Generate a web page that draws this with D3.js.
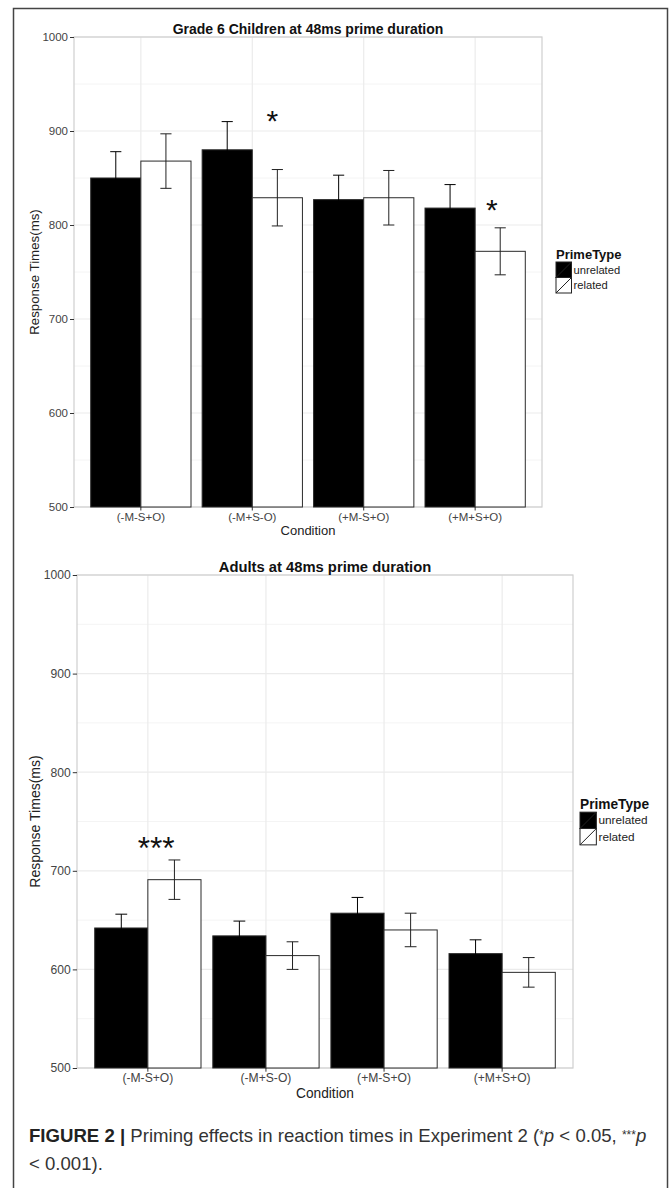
<!DOCTYPE html>
<html><head><meta charset="utf-8">
<script src="https://cdn.jsdelivr.net/npm/d3@7"></script>
<style>
html,body{margin:0;padding:0;background:#fff;}
svg{display:block;}
</style></head>
<body>
<script>
// ---------- DATA ----------
const categories = ["(-M-S+O)", "(-M+S-O)", "(+M-S+O)", "(+M+S+O)"];
const primeTypes = ["unrelated", "related"];
const yTicks = [500, 600, 700, 800, 900, 1000];

const childUnrelated    = [850, 880, 827, 818];
const childUnrelatedErr = [28, 30, 26, 25];
const childRelated      = [868, 829, 829, 772];
const childRelatedErr   = [29, 30, 29, 25];
const childStarCats   = ["(-M+S-O)", "(+M+S+O)"];
const childStarLabels = ["*", "*"];
const childStarValues = [918, 824];
const childStarShift  = [0.18, 0.15];

const adultUnrelated    = [642, 634, 657, 616];
const adultUnrelatedErr = [14, 15, 16, 14];
const adultRelated      = [691, 614, 640, 597];
const adultRelatedErr   = [20, 14, 17, 15];
const adultStarCats   = ["(-M-S+O)"];
const adultStarLabels = ["***"];
const adultStarValues = [731];
const adultStarShift  = [0.07];

// ---------- DRAW ----------
const FONT = "'Liberation Sans', Arial, Helvetica, sans-serif";
const svg = d3.select("body").append("svg").attr("width", 672).attr("height", 1188);
svg.append("rect").attr("width", 672).attr("height", 1188).attr("fill", "#fff");
// outer frame
svg.append("rect").attr("x", 13.5).attr("y", 8.5).attr("width", 654).attr("height", 1200)
  .attr("fill", "none").attr("stroke", "#444").attr("stroke-width", 1.5);

function drawChart(cfg) {
  const s = cfg.s;
  const g = svg.append("g");
  const x = d3.scaleBand().domain(categories).range([cfg.left, cfg.right])
    .paddingInner(0.1).paddingOuter(0.15);
  const step = x.step();
  const y = d3.scaleLinear().domain([500, 1000]).range([cfg.bottom, cfg.top]);

  // minor grid
  const minor = d3.range(550, 1000, 100);
  g.selectAll(".minor").data(minor).join("line")
    .attr("x1", cfg.left).attr("x2", cfg.right)
    .attr("y1", d => y(d)).attr("y2", d => y(d))
    .attr("stroke", "#f4f4f4").attr("stroke-width", 1);
  // major grid
  g.selectAll(".majy").data(yTicks).join("line")
    .attr("x1", cfg.left).attr("x2", cfg.right)
    .attr("y1", d => y(d)).attr("y2", d => y(d))
    .attr("stroke", "#ebebeb").attr("stroke-width", 1.2);
  g.selectAll(".majx").data(categories).join("line")
    .attr("x1", d => x(d) + x.bandwidth() / 2).attr("x2", d => x(d) + x.bandwidth() / 2)
    .attr("y1", cfg.top).attr("y2", cfg.bottom)
    .attr("stroke", "#ebebeb").attr("stroke-width", 1.2);
  // panel border
  g.append("rect").attr("x", cfg.left).attr("y", cfg.top)
    .attr("width", cfg.right - cfg.left).attr("height", cfg.bottom - cfg.top)
    .attr("fill", "none").attr("stroke", "#cfcfcf").attr("stroke-width", 1.2);

  const x1 = d3.scaleBand().domain(primeTypes).range([0, x.bandwidth()]);
  const rows = categories.map((c, i) => [
    { cat: c, type: "unrelated", v: cfg.unrel[i], e: cfg.unrelErr[i] },
    { cat: c, type: "related", v: cfg.rel[i], e: cfg.relErr[i] }
  ]).flat();

  g.selectAll(".bar").data(rows).join("rect")
    .attr("x", d => x(d.cat) + x1(d.type))
    .attr("y", d => y(d.v))
    .attr("width", x1.bandwidth())
    .attr("height", d => y(500) - y(d.v))
    .attr("fill", d => d.type === "unrelated" ? "#000" : "#fff")
    .attr("stroke", "#2a2a2a").attr("stroke-width", 1);

  const capW = 0.1 * step;
  const ebColor = d => d.type === "unrelated" ? "#000" : "#222";
  const eb = g.selectAll(".eb").data(rows).join("g")
    .attr("transform", d => `translate(${x(d.cat) + x1(d.type) + x1.bandwidth() / 2},0)`);
  eb.append("line").attr("x1", 0).attr("x2", 0)
    .attr("y1", d => y(d.v + d.e)).attr("y2", d => y(d.v - d.e))
    .attr("stroke", ebColor).attr("stroke-width", 1);
  eb.append("line").attr("x1", -capW / 2).attr("x2", capW / 2)
    .attr("y1", d => y(d.v + d.e)).attr("y2", d => y(d.v + d.e))
    .attr("stroke", ebColor).attr("stroke-width", 1);
  eb.append("line").attr("x1", -capW / 2).attr("x2", capW / 2)
    .attr("y1", d => y(d.v - d.e)).attr("y2", d => y(d.v - d.e))
    .attr("stroke", ebColor).attr("stroke-width", 1);

  // stars
  const starFs = 30 * s;
  g.selectAll(".star").data(cfg.starCats.map((c, i) => ({ c, l: cfg.starLabels[i], v: cfg.starValues[i], sh: cfg.starShift[i] })))
    .join("text")
    .attr("x", d => x(d.c) + x.bandwidth() / 2 + d.sh * step)
    .attr("y", d => y(d.v) + 0.58 * starFs)
    .attr("text-anchor", "middle")
    .attr("font-family", FONT).attr("font-size", starFs).attr("fill", "#111")
    .text(d => d.l);

  // y axis
  const ya = g.append("g").attr("transform", `translate(${cfg.left},0)`)
    .call(d3.axisLeft(y).tickValues(yTicks).tickSize(4 * s).tickPadding(2 * s).tickFormat(d3.format("d")));
  ya.select(".domain").remove();
  ya.selectAll(".tick line").attr("stroke", "#333");
  ya.selectAll(".tick text").attr("font-family", FONT).attr("font-size", 11.5 * s).attr("fill", "#444");

  // x axis
  const xa = g.append("g").attr("transform", `translate(0,${cfg.bottom})`)
    .call(d3.axisBottom(x).tickSize(3.5 * s).tickPadding(2 * s));
  xa.select(".domain").remove();
  xa.selectAll(".tick line").attr("stroke", "#333");
  xa.selectAll(".tick text").attr("font-family", FONT).attr("font-size", 11.5 * s).attr("fill", "#444");

  const cx = (cfg.left + cfg.right) / 2;
  g.append("text").attr("x", cx).attr("y", cfg.bottom + 28 * s)
    .attr("text-anchor", "middle").attr("font-family", FONT).attr("font-size", 13 * s)
    .attr("fill", "#222").text("Condition");
  g.append("text")
    .attr("transform", `translate(${cfg.yTitleX},${(cfg.top + cfg.bottom) / 2}) rotate(-90)`)
    .attr("text-anchor", "middle").attr("font-family", FONT).attr("font-size", 13.3 * s)
    .attr("fill", "#222").text("Response Times(ms)");
  g.append("text").attr("x", cx).attr("y", cfg.top - 3 * s)
    .attr("text-anchor", "middle").attr("font-family", FONT).attr("font-size", 14 * s)
    .attr("font-weight", "bold").attr("fill", "#111").text(cfg.title);

  // legend
  const lg = g.append("g").attr("transform", `translate(${cfg.legX},${cfg.legY})`);
  lg.append("text").attr("x", 0).attr("y", 0).attr("font-family", FONT)
    .attr("font-size", 13 * s).attr("font-weight", "bold").attr("fill", "#111").text("PrimeType");
  const k = 15.5 * s;
  primeTypes.forEach((t, i) => {
    const ky = 3 * s + i * k;
    lg.append("rect").attr("x", 0).attr("y", ky).attr("width", k).attr("height", k)
      .attr("fill", t === "unrelated" ? "#000" : "#fff").attr("stroke", "#222").attr("stroke-width", 1);
    lg.append("line").attr("x1", 0).attr("y1", ky + k).attr("x2", k).attr("y2", ky)
      .attr("stroke", "#222").attr("stroke-width", 1);
    lg.append("text").attr("x", k + 2 * s).attr("y", ky + k / 2).attr("dy", "0.35em")
      .attr("font-family", FONT).attr("font-size", 11.2 * s).attr("fill", "#222").text(t);
  });
}

drawChart({
  left: 74, right: 542, top: 37, bottom: 507, s: 1, yTitleX: 39,
  title: "Grade 6 Children at 48ms prime duration",
  unrel: childUnrelated, unrelErr: childUnrelatedErr, rel: childRelated, relErr: childRelatedErr,
  starCats: childStarCats, starLabels: childStarLabels, starValues: childStarValues, starShift: childStarShift,
  legX: 556, legY: 259
});
drawChart({
  left: 77, right: 573, top: 575, bottom: 1068, s: 1.055, yTitleX: 40,
  title: "Adults at 48ms prime duration",
  unrel: adultUnrelated, unrelErr: adultUnrelatedErr, rel: adultRelated, relErr: adultRelatedErr,
  starCats: adultStarCats, starLabels: adultStarLabels, starValues: adultStarValues, starShift: adultStarShift,
  legX: 580, legY: 809
});

// caption
const CAPFS = 18.6;
const cap = svg.append("text").attr("x", 29).attr("y", 1142)
  .attr("font-family", FONT).attr("font-size", CAPFS).attr("fill", "#333");
cap.append("tspan").attr("font-weight", "bold").attr("fill", "#222").text("FIGURE 2 | ");
cap.append("tspan").text("Priming effects in reaction times in Experiment 2 (");
cap.append("tspan").attr("font-size", 12).attr("dy", -3).text("*");
cap.append("tspan").attr("font-style", "italic").attr("dy", 3).text("p");
cap.append("tspan").text(" < 0.05, ");
cap.append("tspan").attr("font-size", 12).attr("dy", -3).text("***");
cap.append("tspan").attr("font-style", "italic").attr("dy", 3).text("p");
svg.append("text").attr("x", 29).attr("y", 1170)
  .attr("font-family", FONT).attr("font-size", CAPFS).attr("fill", "#333").text("< 0.001).");
</script>
</body></html>
